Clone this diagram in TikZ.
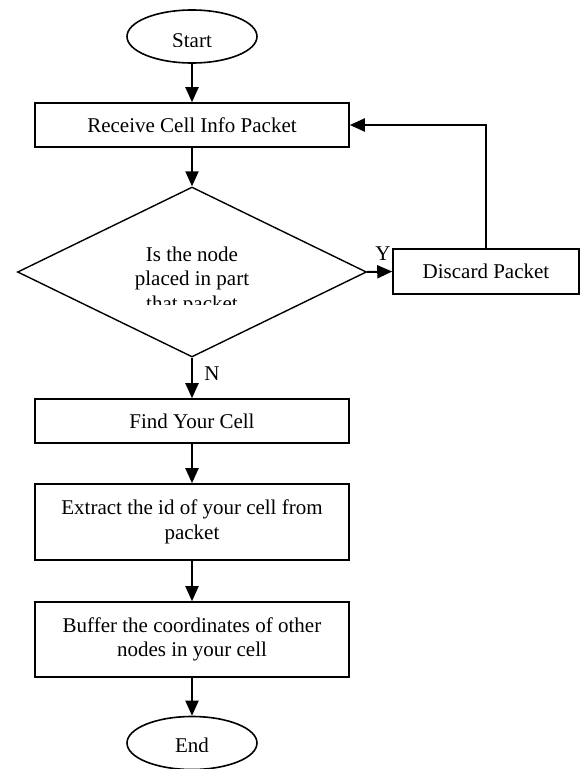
\documentclass[tikz,border=0pt]{standalone}
\usepackage{fontspec}
\setmainfont{Liberation Serif}
\usetikzlibrary{shapes.geometric, arrows.meta, positioning}
\tikzset{
	procbox/.style={draw, line width=1.6pt, minimum width=314pt, align=center, inner sep=0pt},
	termnode/.style={draw, ellipse, line width=1.6pt, minimum width=130pt, minimum height=53pt, inner sep=0pt},
	decide/.style={draw, diamond, line width=1.4pt, minimum width=349pt, minimum height=170pt, inner sep=0pt},
	flow/.style={line width=2pt, -{Triangle[length=15pt,width=13pt]}}
}

\begin{document}
\begin{tikzpicture}[x=1pt, y=-1pt, font=\fontsize{21}{24.5}\selectfont]
			\useasboundingbox (0,0) rectangle (586,769);
			% terminals
			\node[termnode] (start) at (192,36.5) {};
			\node[termnode] (stop) at (192,743) {};
			\begin{scope}
				\clip (130,10) rectangle (255,46.7);
				\node[anchor=base] (starttext) at (192,47.8) {Start};
			\end{scope}
			\begin{scope}
				\clip (130,716) rectangle (255,751.8);
				\node[anchor=base] (endtext) at (192,752.8) {End};
			\end{scope}
			% process boxes
			\node[procbox, minimum height=44pt] (receive) at (192,125) {Receive Cell Info Packet};
			\node[decide] (check) at (192,272) {};
			\begin{scope}
				\clip (100,230) rectangle (290,304);
				\node[align=center, anchor=base] (question) at (192,310) {Is the node\\placed in part\\that packet};
			\end{scope}
			\node[draw, line width=1.6pt, minimum width=186pt, minimum height=45pt, inner sep=0pt] (discard) at (486,271.5) {Discard Packet};
			\node[procbox, minimum height=44pt] (find) at (192,421) {Find Your Cell};
			\node[procbox, minimum height=76pt] (extract) at (192,522) {Extract the id of your cell from\\packet};
			\node[procbox, minimum height=75pt] (buffer) at (192,639.5) {Buffer the coordinates of other\\nodes in your cell};
			% connectors
			\draw[flow] (start) -- (receive);
			\draw[flow] (receive) -- (check);
			\draw[flow] (check.east) -- (discard.west);
			\draw[flow] (discard.north) |- (receive.east);
			\draw[flow] (check.south) -- (find.north);
			\draw[flow] (find) -- (extract);
			\draw[flow] (extract) -- (buffer);
			\draw[flow] (buffer) -- (stop);
			% branch labels
			\node (yes) at (383,253.5) {Y};
			\node (no) at (212,374) {N};
\end{tikzpicture}
\end{document}
